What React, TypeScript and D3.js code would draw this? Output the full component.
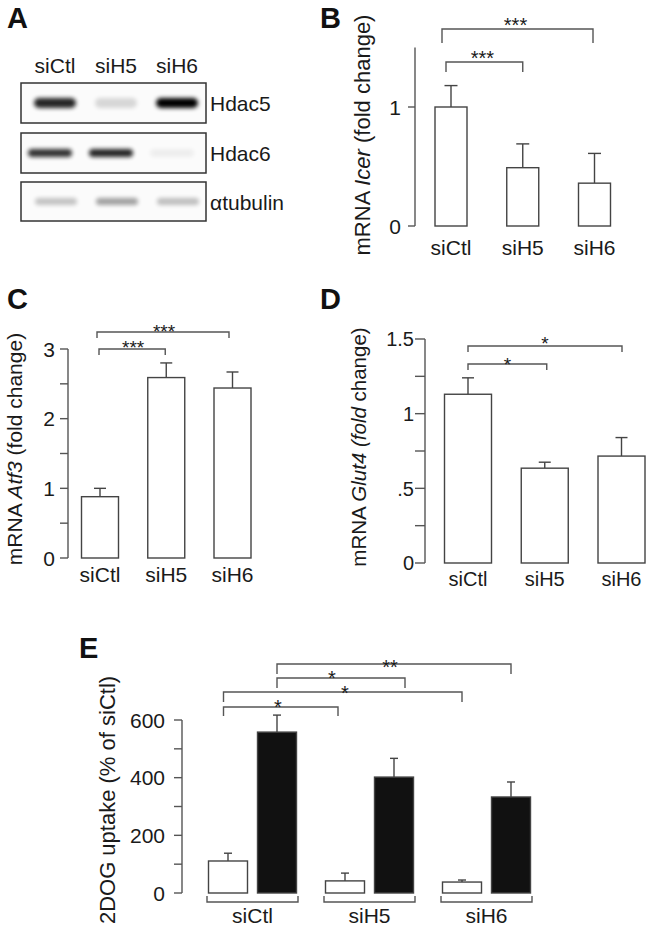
import React from "react";
import * as d3 from "d3";

// ---------- data ----------
const categories = ["siCtl", "siH5", "siH6"];

const blotProteins = ["Hdac5", "Hdac6", "αtubulin"];
const hdac5Bands = [0.85, 0.14, 1.0];
const hdac6Bands = [0.8, 0.85, 0.05];
const tubulinBands = [0.22, 0.36, 0.24];

const icerMean = [1.0, 0.49, 0.36];
const icerErr = [0.18, 0.2, 0.25];
const icerTicks = [0, 1];
const icerTickLabels = ["0", "1"];

const atf3Mean = [0.88, 2.59, 2.44];
const atf3Err = [0.12, 0.21, 0.23];
const atf3Ticks = [0, 0.5, 1, 1.5, 2, 2.5, 3];
const atf3TickLabels = ["0", "", "1", "", "2", "", "3"];

const glut4Mean = [1.13, 0.635, 0.716];
const glut4Err = [0.11, 0.04, 0.124];
const glut4Ticks = [0, 0.25, 0.5, 0.75, 1, 1.25, 1.5];
const glut4TickLabels = ["0", "", ".5", "", "1", "", "1.5"];

const uptakeSeries = ["basal", "insulin"];
const uptakeBasal = [111, 42, 38];
const uptakeBasalErr = [27, 27, 7];
const uptakeInsulin = [558, 402, 333];
const uptakeInsulinErr = [59, 65, 52];
const uptakeTicks = [0, 100, 200, 300, 400, 500, 600];
const uptakeTickLabels = ["0", "", "200", "", "400", "", "600"];

const icerSig = [
  { a: "siCtl", b: "siH5", label: "***" },
  { a: "siCtl", b: "siH6", label: "***" },
];
const atf3Sig = [
  { a: "siCtl", b: "siH5", label: "***" },
  { a: "siCtl", b: "siH6", label: "***" },
];
const glut4Sig = [
  { a: "siCtl", b: "siH5", label: "*" },
  { a: "siCtl", b: "siH6", label: "*" },
];
const uptakeSig = [
  { a: ["siCtl", "insulin"], b: ["siH6", "insulin"], label: "**" },
  { a: ["siCtl", "insulin"], b: ["siH5", "insulin"], label: "*" },
  { a: ["siCtl", "basal"], b: ["siH6", "basal"], label: "*" },
  { a: ["siCtl", "basal"], b: ["siH5", "basal"], label: "*" },
];

// ---------- style ----------
const FONT = "'Liberation Sans', Arial, Helvetica, sans-serif";
const AXC = "#555";
const BARC = "#444";
const TXT = "#1a1a1a";

type Bracket = { x1: number; x2: number; y: number; drop1: number; drop2: number; label: string; sx: number; sy: number };

function Brackets({ items, fs }: { items: Bracket[]; fs: number }) {
  return (
    <g>
      {items.map((b, i) => (
        <g key={i}>
          <path
            d={`M${b.x1},${b.y + b.drop1}V${b.y}H${b.x2}V${b.y + b.drop2}`}
            fill="none"
            stroke={AXC}
            strokeWidth={1.4}
          />
          <text x={b.sx} y={b.sy + fs * 0.58} textAnchor="middle" fontSize={fs} fill={TXT}>
            {b.label}
          </text>
        </g>
      ))}
    </g>
  );
}

function YAxis({ x, y, ticks, labels, top, tickLen, gap, fs }: any) {
  return (
    <g>
      <line x1={x} x2={x} y1={y(0)} y2={y(top)} stroke={AXC} strokeWidth={1.4} />
      {ticks.map((t: number, i: number) => (
        <g key={i}>
          <line x1={x - tickLen} x2={x} y1={y(t)} y2={y(t)} stroke={AXC} strokeWidth={1.4} />
          {labels[i] ? (
            <text x={x - gap} y={y(t)} dy="0.36em" textAnchor="end" fontSize={fs} fill={TXT}>
              {labels[i]}
            </text>
          ) : null}
        </g>
      ))}
    </g>
  );
}

function Bar({ cx, w, y, v, e, cap, fill }: any) {
  return (
    <g>
      <line x1={cx} x2={cx} y1={y(v)} y2={y(v + e)} stroke={BARC} strokeWidth={1.4} />
      <line x1={cx - cap / 2} x2={cx + cap / 2} y1={y(v + e)} y2={y(v + e)} stroke={BARC} strokeWidth={1.4} />
      <rect x={cx - w / 2} y={y(v)} width={w} height={y(0) - y(v)} fill={fill} stroke={BARC} strokeWidth={1.4} />
    </g>
  );
}

function SimplePanel(props: any) {
  const { x, y, means, errs, barW, cap, axis, catY, catFs, title, titleX, titleY, titleFs, brackets, starFs } = props;
  return (
    <g>
      <YAxis {...axis} y={y} />
      {categories.map((c, i) => (
        <Bar key={c} cx={x(c)} w={barW} y={y} v={means[i]} e={errs[i]} cap={cap} fill="#fff" />
      ))}
      {categories.map((c) => (
        <text key={c} x={x(c)} y={catY} textAnchor="middle" fontSize={catFs} fill={TXT}>
          {c}
        </text>
      ))}
      <text transform={`translate(${titleX},${titleY}) rotate(-90)`} textAnchor="middle" fontSize={titleFs} fill={TXT}>
        {title}
      </text>
      <Brackets items={brackets} fs={starFs} />
    </g>
  );
}

function PanelLetter({ x, y, t }: any) {
  return (
    <text x={x} y={y} fontSize={29} fontWeight="bold" fill="#111">
      {t}
    </text>
  );
}

export default function App() {
  // ----- Panel A: blot -----
  const lane = d3.scalePoint<string>().domain(categories).range([55, 177]);
  const blotRows = [
    { name: blotProteins[0], bands: hdac5Bands, y0: 83, h: 40, bh: 10, dx: 0, bw: 42 },
    { name: blotProteins[1], bands: hdac6Bands, y0: 133, h: 40, bh: 8, dx: -5, bw: 44 },
    { name: blotProteins[2], bands: tubulinBands, y0: 182, h: 39, bh: 7, dx: 1, bw: 42 },
  ];

  // ----- Panel B -----
  const xB = d3.scalePoint<string>().domain(categories).range([451, 594.5]);
  const yB = d3.scaleLinear().domain([0, 1.5]).range([226, 47.5]);
  const bB: Bracket[] = icerSig.map((s, i) => {
    const lay = [
      { y: 62, d1: 10, d2: 10, o1: -5, o2: 0, sy: 53 },
      { y: 29, d1: 14, d2: 14, o1: -9, o2: -1.5, sy: 20 },
    ][i];
    const x1 = xB(s.a)! + lay.o1;
    const x2 = xB(s.b)! + lay.o2;
    return { x1, x2, y: lay.y, drop1: lay.d1, drop2: lay.d2, label: s.label, sx: (x1 + x2) / 2 - 2, sy: lay.sy };
  });

  // ----- Panel C -----
  const xC = d3.scalePoint<string>().domain(categories).range([100, 232.5]);
  const yC = d3.scaleLinear().domain([0, 3]).range([558, 349]);
  const bC: Bracket[] = atf3Sig.map((s, i) => {
    const lay = [
      { y: 349, d: 6, o1: -1, o2: -1, sy: 343 },
      { y: 332, d: 6, o1: -3, o2: -3.5, sy: 327 },
    ][i];
    const x1 = xC(s.a)! + lay.o1;
    const x2 = xC(s.b)! + lay.o2;
    return { x1, x2, y: lay.y, drop1: lay.d, drop2: lay.d, label: s.label, sx: (x1 + x2) / 2 + 1, sy: lay.sy };
  });

  // ----- Panel D -----
  const xD = d3.scalePoint<string>().domain(categories).range([468, 621.5]);
  const yD = d3.scaleLinear().domain([0, 1.5]).range([563, 339]);
  const bD: Bracket[] = glut4Sig.map((s, i) => {
    const lay = [
      { y: 364, d: 6, o1: 0, o2: 2, sy: 360 },
      { y: 346, d: 6, o1: 0, o2: 0.5, sy: 339 },
    ][i];
    const x1 = xD(s.a)! + lay.o1;
    const x2 = xD(s.b)! + lay.o2;
    return { x1, x2, y: lay.y, drop1: lay.d, drop2: lay.d, label: s.label, sx: (x1 + x2) / 2, sy: lay.sy };
  });

  // ----- Panel E -----
  const xE = d3.scalePoint<string>().domain(categories).range([252.5, 486.5]);
  const sub = d3.scaleOrdinal<string, number>().domain(uptakeSeries).range([-24.5, 24.5]);
  const yE = d3.scaleLinear().domain([0, 600]).range([893, 720]);
  const eLay = [
    { y: 664, d: 10, o1: 0, o2: 0, sx: 390, sy: 662 },
    { y: 678, d: 10, o1: 0, o2: 11, sx: 332, sy: 673 },
    { y: 692, d: 10, o1: -4.5, o2: 0, sx: 345, sy: 688 },
    { y: 707, d: 9, o1: -4.5, o2: -7, sx: 278, sy: 702 },
  ];
  const bE: Bracket[] = uptakeSig.map((s, i) => {
    const lay = eLay[i];
    const x1 = xE(s.a[0])! + sub(s.a[1]) + lay.o1;
    const x2 = xE(s.b[0])! + sub(s.b[1]) + lay.o2;
    return { x1, x2, y: lay.y, drop1: lay.d, drop2: lay.d, label: s.label, sx: lay.sx, sy: lay.sy };
  });
  const uptakeVals = [uptakeBasal, uptakeInsulin];
  const uptakeErrs = [uptakeBasalErr, uptakeInsulinErr];

  return (
    <svg
      width={653}
      height={930}
      style={{ position: "absolute", left: 0, top: 0, background: "#fff" }}
      fontFamily={FONT}
    >
      <defs>
        <filter id="bandBlur" x="-30%" y="-100%" width="160%" height="300%">
          <feGaussianBlur stdDeviation="2.2" />
        </filter>
      </defs>
      <rect width={653} height={930} fill="#fff" />

      {/* Panel A */}
      <PanelLetter x={7} y={28} t="A" />
      {categories.map((c) => (
        <text key={c} x={lane(c)} y={73} textAnchor="middle" fontSize={21} fill={TXT}>
          {c}
        </text>
      ))}
      {blotRows.map((r) => (
        <g key={r.name}>
          <rect x={21} y={r.y0} width={185} height={r.h} fill="#fbfbfb" stroke="#333" strokeWidth={1.5} />
          {categories.map((c, i) => (
            <rect
              key={c}
              x={lane(c)! + r.dx - r.bw / 2}
              y={r.y0 + r.h / 2 - r.bh / 2}
              width={r.bw}
              height={r.bh}
              rx={r.bh / 2}
              fill="#000"
              opacity={r.bands[i]}
              filter="url(#bandBlur)"
            />
          ))}
          <text x={210} y={r.y0 + r.h / 2 + 8} fontSize={21} fill={TXT}>
            {r.name}
          </text>
        </g>
      ))}

      {/* Panel B */}
      <PanelLetter x={320} y={28} t="B" />
      <SimplePanel
        x={xB}
        y={yB}
        means={icerMean}
        errs={icerErr}
        barW={32}
        cap={13}
        axis={{ x: 415, ticks: icerTicks, labels: icerTickLabels, top: 1.5, tickLen: 7, gap: 14, fs: 21 }}
        catY={255}
        catFs={21}
        title={
          <>
            mRNA <tspan fontStyle="italic">Icer</tspan> (fold change)
          </>
        }
        titleX={370}
        titleY={135}
        titleFs={22}
        brackets={bB}
        starFs={20}
      />

      {/* Panel C */}
      <PanelLetter x={7} y={309} t="C" />
      <SimplePanel
        x={xC}
        y={yC}
        means={atf3Mean}
        errs={atf3Err}
        barW={37}
        cap={12}
        axis={{ x: 68, ticks: atf3Ticks, labels: atf3TickLabels, top: 3, tickLen: 8, gap: 13, fs: 21 }}
        catY={582}
        catFs={21}
        title={
          <>
            mRNA <tspan fontStyle="italic">Atf3</tspan> (fold change)
          </>
        }
        titleX={22}
        titleY={449}
        titleFs={21}
        brackets={bC}
        starFs={19}
      />

      {/* Panel D */}
      <PanelLetter x={320} y={309} t="D" />
      <SimplePanel
        x={xD}
        y={yD}
        means={glut4Mean}
        errs={glut4Err}
        barW={47}
        cap={12}
        axis={{ x: 425, ticks: glut4Ticks, labels: glut4TickLabels, top: 1.5, tickLen: 10, gap: 11, fs: 20 }}
        catY={586}
        catFs={20}
        title={
          <>
            mRNA <tspan fontStyle="italic">Glut4</tspan> <tspan fontStyle="italic"> (fold</tspan> change)
          </>
        }
        titleX={366}
        titleY={447}
        titleFs={20.5}
        brackets={bD}
        starFs={19}
      />

      {/* Panel E */}
      <PanelLetter x={79} y={658} t="E" />
      <YAxis
        x={182}
        y={yE}
        ticks={uptakeTicks}
        labels={uptakeTickLabels}
        top={600}
        tickLen={8}
        gap={17}
        fs={21}
      />
      {categories.map((c, ci) =>
        uptakeSeries.map((s, si) => (
          <Bar
            key={c + s}
            cx={xE(c)! + sub(s)}
            w={39}
            y={yE}
            v={uptakeVals[si][ci]}
            e={uptakeErrs[si][ci]}
            cap={8}
            fill={s === "basal" ? "#fff" : "#111"}
          />
        ))
      )}
      {categories.map((c) => (
        <g key={c}>
          <path
            d={`M${xE(c)! - 45.5},896V902H${xE(c)! + 45.5}V896`}
            fill="none"
            stroke={AXC}
            strokeWidth={1.4}
          />
          <text x={xE(c)} y={923} textAnchor="middle" fontSize={21} fill={TXT}>
            {c}
          </text>
        </g>
      ))}
      <text transform={`translate(115,800) rotate(-90)`} textAnchor="middle" fontSize={22} fill={TXT}>
        2DOG uptake (% of siCtl)
      </text>
      <Brackets items={bE} fs={20} />
    </svg>
  );
}
